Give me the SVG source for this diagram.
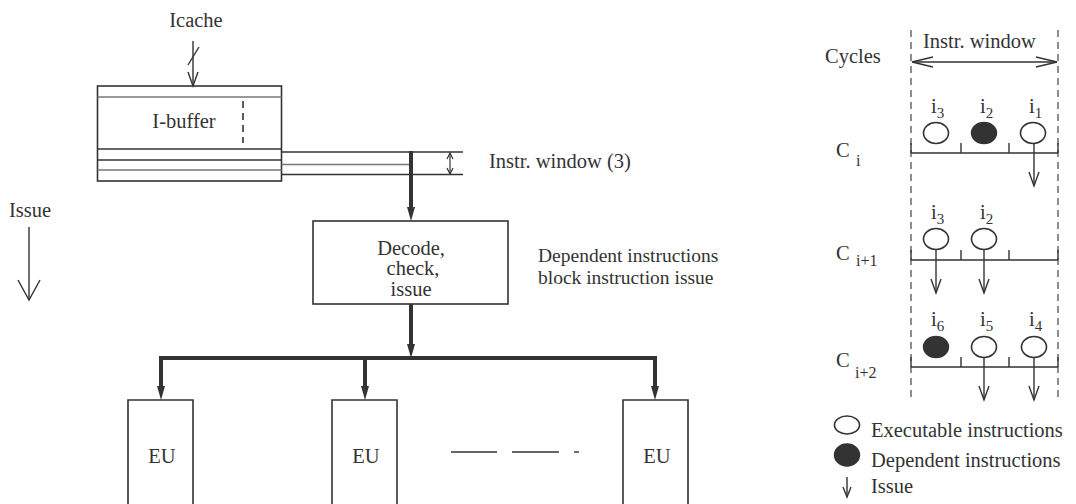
<svg xmlns="http://www.w3.org/2000/svg" width="1076" height="504" viewBox="0 0 1076 504">
<style>
text{font-family:"Liberation Serif","Times New Roman",serif;font-size:20.5px;fill:#333}
.sub{font-size:15px}
.csub{font-size:16px}
.note{font-size:19.5px}
.box{fill:none;stroke:#333;stroke-width:1.6}
.thin{fill:none;stroke:#333;stroke-width:1.4}
.gray{fill:none;stroke:#777;stroke-width:1.4}
.thick{fill:none;stroke:#333;stroke-width:4}
.dash{fill:none;stroke:#444;stroke-width:1.2;stroke-dasharray:7 5}
.filled{fill:#333;stroke:#333;stroke-width:1.4}
.hollow{fill:#fff;stroke:#333;stroke-width:1.6}
</style>
<defs>
<marker id="headThick" markerUnits="userSpaceOnUse" markerWidth="16" markerHeight="10" refX="6" refY="4" orient="auto" overflow="visible"><path d="M0,0 L14,4 L0,8 z" fill="#333"/></marker>
<marker id="headOpen" markerUnits="userSpaceOnUse" markerWidth="16" markerHeight="12" refX="14" refY="5" orient="auto" overflow="visible"><path d="M0,0 L14,5 L0,10" fill="none" stroke="#333" stroke-width="1.4"/></marker>
<marker id="headLong" markerUnits="userSpaceOnUse" markerWidth="22" markerHeight="12" refX="21" refY="5" orient="auto-start-reverse" overflow="visible"><path d="M0,0 L21,5 L0,10" fill="none" stroke="#333" stroke-width="1.4"/></marker>
<marker id="headSmall" markerUnits="userSpaceOnUse" markerWidth="8" markerHeight="8" refX="6" refY="3" orient="auto-start-reverse" overflow="visible"><path d="M0,0 L6,3 L0,6" fill="none" stroke="#333" stroke-width="1.2"/></marker>
<marker id="headIssue" markerUnits="userSpaceOnUse" markerWidth="22" markerHeight="24" refX="20" refY="11" orient="auto" overflow="visible"><path d="M0,0 L20,11 L0,22" fill="none" stroke="#333" stroke-width="1.4"/></marker>
<marker id="headLegend" markerUnits="userSpaceOnUse" markerWidth="12" markerHeight="10" refX="10" refY="4" orient="auto" overflow="visible"><path d="M0,0 L10,4 L0,8" fill="none" stroke="#333" stroke-width="1.4"/></marker>
</defs>

<g id="icache">
<text x="196" y="27" text-anchor="middle">Icache</text>
</g>

<g id="ibuffer">
<rect class="box" x="97.5" y="86" width="184" height="95"/>
<line class="gray" x1="97.5" y1="97" x2="281.5" y2="97"/>
<line class="thin" x1="97.5" y1="149" x2="281.5" y2="149"/>
<line class="thin" x1="97.5" y1="160" x2="281.5" y2="160"/>
<line class="gray" x1="97.5" y1="170" x2="281.5" y2="170"/>
<line x1="243" y1="101" x2="243" y2="143" stroke="#333" stroke-width="1.6" stroke-dasharray="7 5"/>
<text x="184" y="128" text-anchor="middle">I-buffer</text>
</g>

<g id="window-label">
<text x="489" y="168">Instr. window (3)</text>
</g>

<g id="decode">
<rect class="box" x="313" y="221" width="195" height="83"/>
<text x="411" y="255" text-anchor="middle">Decode,</text>
<text x="413" y="275" text-anchor="middle">check,</text>
<text x="411" y="296" text-anchor="middle">issue</text>
</g>

<g id="dependent-note">
<text class="note" x="538" y="262">Dependent instructions</text>
<text class="note" x="538" y="284">block instruction issue</text>
</g>

<g id="issue-left">
<text x="9" y="217">Issue</text>
<line class="thin" x1="29" y1="227" x2="29" y2="300" marker-end="url(#headIssue)"/>
</g>

<g id="eu1">
<path class="box" d="M128,506 V400 H193 V506"/>
<text x="162" y="463" text-anchor="middle">EU</text>
</g>
<g id="eu2">
<path class="box" d="M332,506 V400 H397 V506"/>
<text x="366" y="463" text-anchor="middle">EU</text>
</g>
<g id="eu3">
<path class="box" d="M623,506 V400 H688 V506"/>
<text x="657" y="463" text-anchor="middle">EU</text>
</g>
<g id="eu-ellipsis">
<line class="thin" x1="451" y1="452" x2="497" y2="452"/>
<line class="thin" x1="512" y1="452" x2="559" y2="452"/>
<line class="thin" x1="574" y1="452" x2="579" y2="452"/>
</g>

<g id="connectors">
<line class="thin" x1="193" y1="41" x2="193" y2="86" marker-end="url(#headOpen)"/>
<line class="thin" x1="188" y1="65" x2="199" y2="47"/>
<line class="thin" x1="281.5" y1="152" x2="463" y2="152"/>
<line class="gray" x1="281.5" y1="164.5" x2="411" y2="164.5"/>
<line class="thin" x1="281.5" y1="174.5" x2="463" y2="174.5"/>
<line x1="450" y1="153" x2="450" y2="174" stroke="#333" stroke-width="1.2" marker-start="url(#headSmall)" marker-end="url(#headSmall)"/>
<line class="thick" x1="411" y1="151" x2="411" y2="213" marker-end="url(#headThick)"/>
<line class="thick" x1="411" y1="304" x2="411" y2="350" marker-end="url(#headThick)"/>
<line class="thick" x1="159" y1="358" x2="657" y2="358"/>
<line class="thick" x1="161" y1="356" x2="161" y2="392" marker-end="url(#headThick)"/>
<line class="thick" x1="365" y1="358" x2="365" y2="392" marker-end="url(#headThick)"/>
<line class="thick" x1="655" y1="356" x2="655" y2="392" marker-end="url(#headThick)"/>
</g>

<g id="cycles-chart">
<text x="825" y="63">Cycles</text>
<text x="923" y="48">Instr. window</text>
<line class="dash" x1="911" y1="30" x2="911" y2="400"/>
<line class="dash" x1="1058" y1="30" x2="1058" y2="400"/>
<line class="thin" x1="912" y1="62" x2="1057" y2="62" marker-start="url(#headLong)" marker-end="url(#headLong)"/>
</g>

<g id="row-ci">
<text x="836" y="157">C<tspan class="csub" x="856" y="166">i</tspan></text>
<path class="thin" d="M911,153 H1058 M911,143 V153 M961,143 V153 M1009,143 V153 M1058,143 V153"/>
<ellipse class="hollow" cx="936" cy="133" rx="12.5" ry="10.5"/>
<ellipse class="filled" cx="984" cy="133" rx="12.5" ry="10.5"/>
<ellipse class="hollow" cx="1033" cy="133" rx="12.5" ry="10.5"/>
<text x="931" y="113" font-size="18">i<tspan class="sub" dy="5">3</tspan></text>
<text x="980" y="113" font-size="18">i<tspan class="sub" dy="5">2</tspan></text>
<text x="1029" y="113" font-size="18">i<tspan class="sub" dy="5">1</tspan></text>
<line class="thin" x1="1034" y1="143.5" x2="1034" y2="186" marker-end="url(#headOpen)"/>
</g>

<g id="row-ci1">
<text x="836" y="260">C<tspan class="csub" x="856" y="266">i+1</tspan></text>
<path class="thin" d="M911,260 H1058 M911,250 V260 M961,250 V260 M1009,250 V260 M1058,250 V260"/>
<ellipse class="hollow" cx="936" cy="239" rx="12.5" ry="10.5"/>
<ellipse class="hollow" cx="984" cy="239" rx="12.5" ry="10.5"/>
<text x="931" y="219" font-size="18">i<tspan class="sub" dy="5">3</tspan></text>
<text x="980" y="219" font-size="18">i<tspan class="sub" dy="5">2</tspan></text>
<line class="thin" x1="936" y1="249.5" x2="936" y2="293" marker-end="url(#headOpen)"/>
<line class="thin" x1="984" y1="249.5" x2="984" y2="293" marker-end="url(#headOpen)"/>
</g>

<g id="row-ci2">
<text x="836" y="367">C<tspan class="csub" x="855" y="378">i+2</tspan></text>
<path class="thin" d="M911,367 H1058 M911,357 V367 M961,357 V367 M1009,357 V367 M1058,357 V367"/>
<ellipse class="filled" cx="936" cy="347" rx="12.5" ry="10.5"/>
<ellipse class="hollow" cx="984" cy="347" rx="12.5" ry="10.5"/>
<ellipse class="hollow" cx="1034" cy="347" rx="12.5" ry="10.5"/>
<text x="931" y="326" font-size="18">i<tspan class="sub" dy="5">6</tspan></text>
<text x="980" y="326" font-size="18">i<tspan class="sub" dy="5">5</tspan></text>
<text x="1029" y="326" font-size="18">i<tspan class="sub" dy="5">4</tspan></text>
<line class="thin" x1="984" y1="357.5" x2="984" y2="400" marker-end="url(#headOpen)"/>
<line class="thin" x1="1034" y1="357.5" x2="1034" y2="400" marker-end="url(#headOpen)"/>
</g>

<g id="legend">
<ellipse class="hollow" cx="847" cy="425" rx="12.5" ry="9"/>
<text x="871" y="437">Executable instructions</text>
<ellipse class="filled" cx="847" cy="455" rx="12.5" ry="11"/>
<text x="871" y="467">Dependent instructions</text>
<line class="thin" x1="847" y1="477" x2="847" y2="497" marker-end="url(#headLegend)"/>
<text x="871" y="493">Issue</text>
</g>
</svg>
